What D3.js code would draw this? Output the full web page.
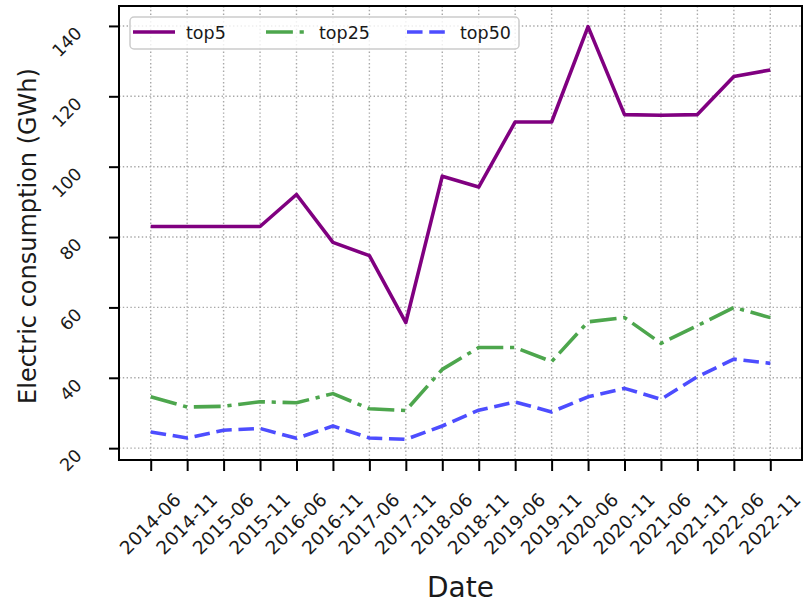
<!DOCTYPE html>
<html>
<head>
<meta charset="utf-8">
<script src="https://cdn.jsdelivr.net/npm/d3@7"></script>
<style>
  body { margin: 0; background: #fff; }
  text { font-family: "DejaVu Sans", sans-serif; }
</style>
</head>
<body>
<div id="chart"></div>
<script>
// data
const dates = ['2014-06', '2014-11', '2015-06', '2015-11', '2016-06', '2016-11', '2017-06', '2017-11', '2018-06',
    '2018-11', '2019-06', '2019-11', '2020-06', '2020-11', '2021-06', '2021-11', '2022-06', '2022-11'];
const top5 = [83.0, 83.0, 83.0, 83.0, 92.1, 78.5, 74.7, 55.7, 97.3, 94.2, 112.7, 112.7, 139.8, 114.8, 114.6, 114.8, 125.6, 127.5];
const top25 = [34.6, 31.7, 31.9, 33.2, 32.9, 35.5, 31.2, 30.7, 42.4, 48.6, 48.6, 44.6, 55.9, 57.1, 49.8, 54.8, 60.0, 57.1];
const top50 = [24.6, 22.9, 25.1, 25.6, 22.8, 26.3, 22.9, 22.5, 26.3, 30.8, 33.1, 30.3, 34.6, 37.0, 33.9, 40.3, 45.3, 44.1];
const yTickValues = [20, 40, 60, 80, 100, 120, 140];

const seriesNames = ['top5', 'top25', 'top50'];
const seriesValues = [top5, top25, top50];

// layout
const width = 803, height = 603;
const plot = { left: 119, right: 802, top: 6, bottom: 460 };
const lw = 4.2;
const styles = {
    top5: { color: '#800080', dash: null },
    top25: { color: '#4da64d', dash: `${6.4 * lw} ${1.6 * lw} ${1 * lw} ${1.6 * lw}` },
    top50: { color: '#4d4dff', dash: `${3.7 * lw} ${1.6 * lw}` }
};

const svg = d3.select('#chart').append('svg')
    .attr('width', width)
    .attr('height', height);

const xScale = d3.scalePoint()
    .domain(dates)
    .range([plot.left, plot.right])
    .padding(0.87);

const allValues = seriesValues.flat();
const [yMin, yMax] = d3.extent(allValues);
const pad = (yMax - yMin) * 0.05;
const yScale = d3.scaleLinear()
    .domain([yMin - pad, yMax + pad])
    .range([plot.bottom, plot.top]);

// dotted grid
const grid = svg.append('g')
    .attr('stroke', '#a8a8a8')
    .attr('stroke-width', 1.4)
    .attr('stroke-dasharray', '1.4 2.4');
grid.selectAll('.gx').data(dates).enter().append('line')
    .attr('x1', d => xScale(d)).attr('x2', d => xScale(d))
    .attr('y1', plot.top).attr('y2', plot.bottom);
grid.selectAll('.gy').data(yTickValues).enter().append('line')
    .attr('x1', plot.left).attr('x2', plot.right)
    .attr('y1', d => yScale(d)).attr('y2', d => yScale(d));

// lines
seriesNames.forEach((name, i) => {
    const line = d3.line()
        .x((d, j) => xScale(dates[j]))
        .y(d => yScale(d));
    svg.append('path')
        .attr('d', line(seriesValues[i]))
        .attr('fill', 'none')
        .attr('stroke', styles[name].color)
        .attr('stroke-width', lw * 0.85)
        .attr('stroke-linejoin', 'round')
        .attr('stroke-dasharray', styles[name].dash);
});

// axes
const xAxis = svg.append('g')
    .attr('transform', `translate(0, ${plot.bottom})`)
    .call(d3.axisBottom(xScale).tickSize(11).tickSizeOuter(0).tickFormat(''));
xAxis.select('.domain').remove();
xAxis.selectAll('.tick line').attr('stroke', '#000').attr('stroke-width', 2);
// the last label runs off the right edge, as in the original
xAxis.selectAll('.tick').append('text')
    .attr('transform', 'translate(31, 41) rotate(-45)')
    .attr('text-anchor', 'end')
    .attr('fill', '#1a1a1a')
    .style('font-size', '18.5px')
    .text(d => d);

const yAxis = svg.append('g')
    .attr('transform', `translate(${plot.left}, 0)`)
    .call(d3.axisLeft(yScale).tickValues(yTickValues).tickSize(10).tickSizeOuter(0).tickFormat(''));
yAxis.select('.domain').remove();
yAxis.selectAll('.tick line').attr('stroke', '#000').attr('stroke-width', 2);
yAxis.selectAll('.tick').append('text')
    .attr('transform', 'translate(-36, 8) rotate(-45)')
    .attr('text-anchor', 'end')
    .attr('fill', '#1a1a1a')
    .style('font-size', '17.5px')
    .text(d => d);

// frame
svg.append('rect')
    .attr('x', plot.left).attr('y', plot.top)
    .attr('width', plot.right - plot.left).attr('height', plot.bottom - plot.top)
    .attr('fill', 'none')
    .attr('stroke', '#000')
    .attr('stroke-width', 2);

// axis titles
svg.append('text')
    .attr('x', (plot.left + plot.right) / 2)
    .attr('y', 597)
    .attr('text-anchor', 'middle')
    .attr('fill', '#1a1a1a')
    .style('font-size', '28px')
    .text('Date');
svg.append('text')
    .attr('transform', `translate(36, 236) rotate(-90)`)
    .attr('text-anchor', 'middle')
    .attr('fill', '#1a1a1a')
    .style('font-size', '24px')
    .text('Electric consumption (GWh)');

// legend
const legend = svg.append('g');
legend.append('rect')
    .attr('x', 130).attr('y', 17)
    .attr('width', 389).attr('height', 32)
    .attr('rx', 4)
    .attr('fill', 'rgba(255,255,255,0.8)')
    .attr('stroke', '#cccccc')
    .attr('stroke-width', 1.5);
const legendX = [133, 266, 407];
seriesNames.forEach((name, i) => {
    legend.append('line')
        .attr('x1', legendX[i]).attr('x2', legendX[i] + 42)
        .attr('y1', 32).attr('y2', 32)
        .attr('stroke', styles[name].color)
        .attr('stroke-width', lw * 0.85)
        .attr('stroke-dasharray', styles[name].dash);
    legend.append('text')
        .attr('x', legendX[i] + 53)
        .attr('y', 38.5)
        .attr('fill', '#1a1a1a')
        .style('font-size', '17.5px')
        .text(name);
});
</script>
</body>
</html>
